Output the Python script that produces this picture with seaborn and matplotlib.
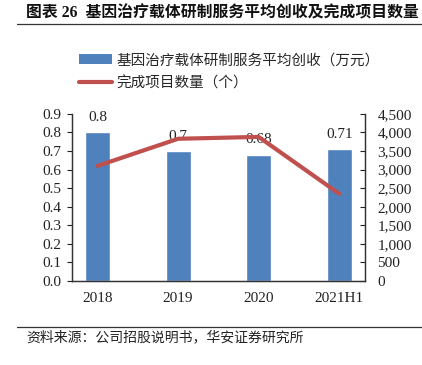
import matplotlib
matplotlib.use("Agg")
import matplotlib.pyplot as plt
import seaborn as sns
import pandas as pd
from matplotlib.lines import Line2D
from matplotlib.patches import Patch

# -----------------------------
# Data
# -----------------------------
years = ["2018", "2019", "2020", "2021H1"]
revenue = [0.8, 0.7, 0.68, 0.71]          # 万元
projects = [3100, 3830, 3880, 2350]        # 个

bar_label_name = "基因治疗载体研制服务平均创收（万元）"
line_label_name = "完成项目数量（个）"
title = "图表 26  基因治疗载体研制服务平均创收及完成项目数量"
source = "资料来源：公司招股说明书，华安证券研究所"

BLUE = "#4F81BD"
RED = "#C0504D"

sns.set_theme(style="white")
plt.rcParams["font.family"] = ["Liberation Serif", "Noto Sans CJK SC", "DejaVu Sans"]

df = pd.DataFrame({"year": years, "revenue": revenue, "projects": projects})

fig = plt.figure(figsize=(4.22, 3.65), dpi=100)
ax = fig.add_axes([0.170, 0.230, 0.695, 0.458])

# -----------------------------
# Bars
# -----------------------------
sns.barplot(data=df, x="year", y="revenue", color=BLUE, width=0.31,
            saturation=1, ax=ax)
ax.bar_label(ax.containers[0], labels=[f"{v:g}" for v in revenue],
             padding=6, fontsize=11, color="#222222")
ax.set_ylim(0, 0.9)
ax.set_yticks([i / 10 for i in range(10)])
ax.set_yticklabels([f"{i / 10:.1f}" for i in range(10)])
ax.set_xlabel("")
ax.set_ylabel("")

# -----------------------------
# Line on right axis
# -----------------------------
ax2 = ax.twinx()
sns.lineplot(data=df, x="year", y="projects", color=RED, linewidth=3,
             ax=ax2, sort=False)
ax2.set_ylim(0, 4500)
ax2.set_yticks(range(0, 4501, 500))
ax2.set_yticklabels([f"{v:,}" for v in range(0, 4501, 500)])
ax2.set_ylabel("")
ax2.set_xlabel("")

for a in (ax, ax2):
    a.spines["top"].set_visible(False)
    for side in ("left", "right", "bottom"):
        a.spines[side].set_color("#333333")
        a.spines[side].set_linewidth(0.9)
    a.tick_params(axis="both", labelsize=11, colors="#222222",
                  length=3.5, width=0.8)

ax.tick_params(axis="y", direction="out", left=True, pad=4)
ax2.tick_params(axis="y", direction="in", right=True, pad=9)
ax.tick_params(axis="x", length=0, pad=8)
# separators between categories on the x axis
ax.set_xticks([0.5, 1.5, 2.5], minor=True)
ax.tick_params(axis="x", which="minor", direction="in", length=4,
               width=0.8, color="#333333")

# -----------------------------
# Legend
# -----------------------------
handles = [Patch(facecolor=BLUE, edgecolor="none"),
           Line2D([0], [0], color=RED, linewidth=3)]
fig.legend(handles, [bar_label_name, line_label_name],
           loc="upper left", bbox_to_anchor=(0.155, 0.89),
           frameon=False, fontsize=10.5, handlelength=2.3,
           handleheight=0.6, labelspacing=0.6, handletextpad=0.3)

# -----------------------------
# Title / source
# -----------------------------
fig.text(0.062, 0.964, title, fontsize=11.4, fontweight="bold",
         va="center", ha="left", color="#111111")
fig.add_artist(Line2D([0.04, 1.0], [0.933, 0.933], color="#333333", linewidth=0.9))
fig.add_artist(Line2D([0.04, 1.0], [0.104, 0.104], color="#333333", linewidth=0.9))
fig.text(0.062, 0.076, source, fontsize=10, va="center", ha="left", color="#222222")

fig.savefig("out.png", dpi=100)
